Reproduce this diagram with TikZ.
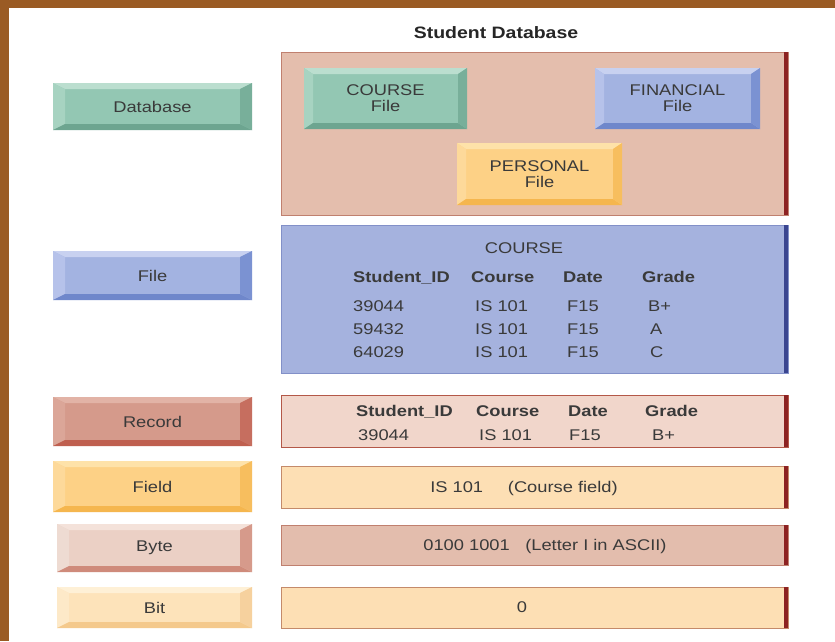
\documentclass[tikz,border=0pt]{standalone}
\usepackage{fontspec}
\setmainfont{Liberation Sans}[FakeStretch=1.18]
\definecolor{brownbg}{HTML}{9A5B24}
\definecolor{txt}{HTML}{3A3A3A}
\definecolor{ttl}{HTML}{262626}
% bevel colour families: F face, T top, L left, D bottom, R right
\definecolor{grnF}{HTML}{93C7B3}\definecolor{grnT}{HTML}{BBDECF}\definecolor{grnL}{HTML}{A7D3C1}\definecolor{grnD}{HTML}{6DA590}\definecolor{grnR}{HTML}{78AF9A}
\definecolor{bluF}{HTML}{A3B3E1}\definecolor{bluT}{HTML}{C8D1F0}\definecolor{bluL}{HTML}{B6C2EA}\definecolor{bluD}{HTML}{6F87CB}\definecolor{bluR}{HTML}{7B92D2}
\definecolor{redF}{HTML}{D59A8B}\definecolor{redT}{HTML}{E2B3A6}\definecolor{redL}{HTML}{DBA698}\definecolor{redD}{HTML}{BF5F4F}\definecolor{redR}{HTML}{C66E5F}
\definecolor{yelF}{HTML}{FDD186}\definecolor{yelT}{HTML}{FEE2A9}\definecolor{yelL}{HTML}{FDD99A}\definecolor{yelD}{HTML}{F5B64E}\definecolor{yelR}{HTML}{F7BE5E}
\definecolor{pnkF}{HTML}{EBD0C5}\definecolor{pnkT}{HTML}{F4E2DA}\definecolor{pnkL}{HTML}{EEDBD2}\definecolor{pnkD}{HTML}{CF8B7B}\definecolor{pnkR}{HTML}{D69A8B}
\definecolor{bitF}{HTML}{FDE3BA}\definecolor{bitT}{HTML}{FEF0D6}\definecolor{bitL}{HTML}{FDE9C8}\definecolor{bitD}{HTML}{F4C98C}\definecolor{bitR}{HTML}{F6D19E}
% panels
\definecolor{dbFill}{HTML}{E4BEAD}\definecolor{dbLine}{HTML}{C0806F}
\definecolor{flFill}{HTML}{A5B2DE}\definecolor{flLine}{HTML}{8290C8}\definecolor{flEdge}{HTML}{3A4590}
\definecolor{rcFill}{HTML}{F1D6CB}\definecolor{rcLine}{HTML}{B45848}
\definecolor{fdFill}{HTML}{FDDFB4}\definecolor{fdLine}{HTML}{C48A6A}
\definecolor{byFill}{HTML}{E3BDAD}
\definecolor{redEdge}{HTML}{8C2222}
\tikzset{
  lbl/.style={text=txt, inner sep=0pt, font=\fontsize{15.5}{16}\selectfont, align=center},
  cell/.style={text=txt, inner sep=0pt, font=\fontsize{15.5}{16}\selectfont, anchor=base west},
  hcell/.style={cell, font=\fontsize{15.5}{16}\selectfont\bfseries},
}
% \bevbox{name}{x1}{y1}{x2}{y2}{colour family}{side bevel}{text}
\newcommand{\bevbox}[8]{%
  \fill[#6F] (#2,#3) rectangle (#4,#5);
  \fill[#6T] (#2,#3) -- (#4,#3) -- (#4-#7,#3+6) -- (#2+#7,#3+6) -- cycle;
  \fill[#6L] (#2,#3) -- (#2+#7,#3+6) -- (#2+#7,#5-6) -- (#2,#5) -- cycle;
  \fill[#6D] (#2,#5) -- (#2+#7,#5-6) -- (#4-#7,#5-6) -- (#4,#5) -- cycle;
  \fill[#6R] (#4,#3) -- (#4-#7,#3+6) -- (#4-#7,#5-6) -- (#4,#5) -- cycle;
  \node[lbl, minimum width={(#4-#2)*1pt}, minimum height={(#5-#3)*1pt}] (#1) at ({(#2+#4)/2},{(#3+#5)/2}) {#8};
}
% \panel{name}{x1}{y1}{x2}{y2}{fill}{line}{edge}
\newcommand{\panel}[8]{%
  \node[draw=#7, line width=0.8pt, fill=#6, inner sep=0pt, minimum width={(#4-#2)*1pt}, minimum height={(#5-#3)*1pt}] (#1) at ({(#2+#4)/2},{(#3+#5)/2}) {};
  \draw[#8, line width=4pt] (#4-2,#3) -- (#4-2,#5);
}
\begin{document}
\begin{tikzpicture}[x=1pt,y=-1pt]
\useasboundingbox (0,0) rectangle (835,641);
\fill[brownbg] (0,0) rectangle (835,641);
\fill[white] (9,8) rectangle (835,641);

% title
\node[text=ttl, inner sep=0pt, font=\fontsize{16.5}{18}\selectfont\bfseries] (title) at (496,33) {Student Database};

% left hierarchy buttons
\bevbox{bDatabase}{53}{83}{252}{130}{grn}{12}{Database}
\bevbox{bFile}{53}{251}{252}{300}{blu}{12}{File}
\bevbox{bRecord}{53}{397}{252}{446}{red}{12}{Record}
\bevbox{bField}{53}{461}{252}{512}{yel}{12}{Field}
\bevbox{bByte}{57}{524}{252}{572}{pnk}{12}{Byte}
\bevbox{bBit}{57}{587}{252}{628}{bit}{12}{Bit}

% database panel
\panel{pDatabase}{281}{52}{788}{215}{dbFill}{dbLine}{redEdge}
\bevbox{fCourse}{304}{68}{467}{129}{grn}{9}{COURSE\\File}
\bevbox{fFinancial}{595}{68}{760}{129}{blu}{9}{FINANCIAL\\File}
\bevbox{fPersonal}{457}{143}{622}{205}{yel}{9}{PERSONAL\\File}

% file panel
\panel{pFile}{281}{225}{788}{373}{flFill}{flLine}{flEdge}
\node[lbl] (fTitle) at (524,248) {COURSE};
\node[hcell] (fh1) at (353,282.5) {Student\_ID};
\node[hcell] (fh2) at (471,282.5) {Course};
\node[hcell] (fh3) at (563,282.5) {Date};
\node[hcell] (fh4) at (642,282.5) {Grade};
\node[cell] (fa1) at (353,311.5) {39044};
\node[cell] (fa2) at (475,311.5) {IS 101};
\node[cell] (fa3) at (567,311.5) {F15};
\node[cell] (fa4) at (648,311.5) {B+};
\node[cell] (fb1) at (353,334.5) {59432};
\node[cell] (fb2) at (475,334.5) {IS 101};
\node[cell] (fb3) at (567,334.5) {F15};
\node[cell] (fb4) at (650,334.5) {A};
\node[cell] (fc1) at (353,357.5) {64029};
\node[cell] (fc2) at (475,357.5) {IS 101};
\node[cell] (fc3) at (567,357.5) {F15};
\node[cell] (fc4) at (650,357.5) {C};

% record panel
\panel{pRecord}{281}{395}{788}{447}{rcFill}{rcLine}{redEdge}
\node[hcell] (rh1) at (356,416.5) {Student\_ID};
\node[hcell] (rh2) at (476,416.5) {Course};
\node[hcell] (rh3) at (568,416.5) {Date};
\node[hcell] (rh4) at (645,416.5) {Grade};
\node[cell] (ra1) at (358,440.5) {39044};
\node[cell] (ra2) at (479,440.5) {IS 101};
\node[cell] (ra3) at (569,440.5) {F15};
\node[cell] (ra4) at (652,440.5) {B+};

% field panel
\panel{pField}{281}{466}{788}{508}{fdFill}{fdLine}{redEdge}
\node[lbl] (tField) at (524,488) {IS 101\hspace{1.6em}(Course field)};

% byte panel
\panel{pByte}{281}{525}{788}{565}{byFill}{dbLine}{redEdge}
\node[lbl] (tByte) at (545,546) {0100 1001\hspace{1em}(Letter I in ASCII)};

% bit panel
\panel{pBit}{281}{587}{788}{628}{fdFill}{fdLine}{redEdge}
\node[lbl] (tBit) at (522,607) {0};
\end{tikzpicture}
\end{document}
